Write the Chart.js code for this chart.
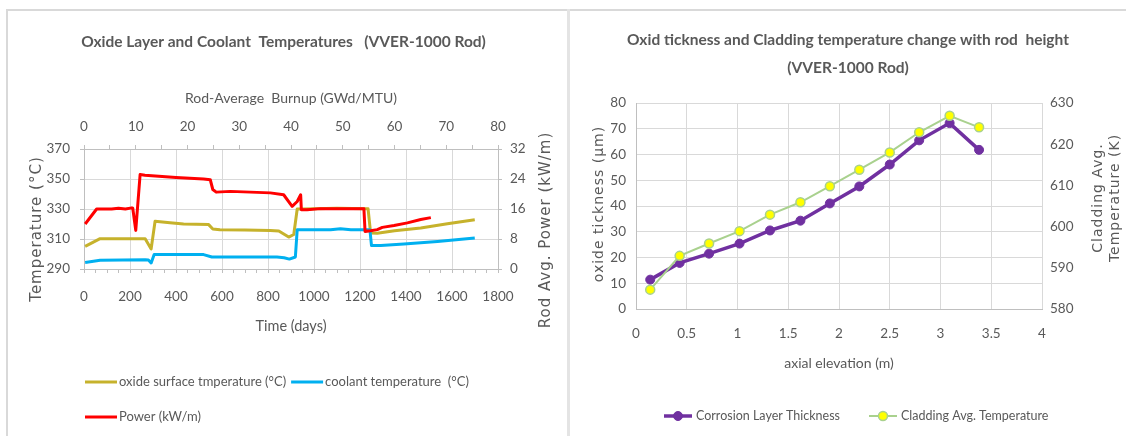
<!DOCTYPE html>
<html>
<head>
<meta charset="utf-8">
<title>VVER-1000 rod oxide charts</title>
<script src="https://cdn.jsdelivr.net/npm/chart.js@4.4.1/dist/chart.umd.min.js"></script>
<style>
  html, body { margin: 0; padding: 0; background: #fff; }
  body { position: relative; width: 1126px; height: 436px; overflow: hidden; }
  .rule { position: absolute; background: #d9d9d9; }
  #ruleTop { left: 6px; top: 9px; width: 1120px; height: 2px; }
  #ruleLeft { left: 6px; top: 9px; width: 2px; height: 427px; }
  #ruleMid { left: 567px; top: 9px; width: 3px; height: 427px; background: #e4e4e4; }
  canvas { position: absolute; top: 11px; }
  #leftChart { left: 0; }
  #rightChart { left: 570px; }
</style>
</head>
<body>
<div class="rule" id="ruleTop"></div>
<div class="rule" id="ruleLeft"></div>
<div class="rule" id="ruleMid"></div>
<canvas id="leftChart" width="567" height="425"></canvas>
<canvas id="rightChart" width="556" height="425"></canvas>

<script>
// ---- data: left chart (time history) ----
const oxideDays = [5, 70, 266, 292, 309, 374, 433, 542, 560, 591, 700, 810, 847, 890, 912, 927, 956, 1100, 1235, 1246, 1275, 1350, 1464, 1580, 1699];
const oxideTemp = [305.1, 310.2, 310.2, 303.4, 321.8, 320.8, 320, 319.6, 316.7, 316.2, 316, 315.6, 315.4, 311.3, 313, 330, 330, 330.5, 330.2, 314, 313.8, 315.5, 317.3, 320.2, 322.9];

const coolantDays = [5, 70, 266, 280, 292, 305, 520, 556, 839, 870, 893, 919, 927, 1072, 1115, 1160, 1243, 1250, 1290, 1391, 1537, 1699];
const coolantTemp = [294.4, 295.8, 296.2, 296, 294, 299.6, 299.6, 298, 298, 297.5, 296.6, 298, 316.2, 316.2, 316.9, 316.2, 316.2, 305.6, 305.6, 306.7, 308.4, 310.7];

const powerDays = [5, 55, 120, 150, 180, 208, 212, 225, 244, 265, 400, 520, 549, 560, 575, 636, 810, 868, 905, 927, 942, 945, 970, 1028, 1217, 1222, 1246, 1275, 1297, 1348, 1406, 1464, 1508];
const powerKw = [12, 16, 16, 16.2, 16, 16.3, 16.2, 10.3, 25.2, 25, 24.4, 24, 23.8, 21.2, 20.5, 20.7, 20.3, 19.8, 16.7, 18, 19.8, 15.8, 15.8, 16.1, 16.1, 10, 10.2, 10.5, 11.1, 11.6, 12.3, 13.2, 13.7];

const leftLegend = ['oxide surface tmperature (°C)', 'coolant temperature  (°C)', 'Power (kW/m)'];

// ---- data: right chart (axial profile) ----
const elevation = [0.14, 0.43, 0.72, 1.02, 1.32, 1.62, 1.91, 2.2, 2.5, 2.79, 3.09, 3.38];
const corrosion = [11.4, 17.9, 21.5, 25.4, 30.5, 34.3, 41, 47.6, 56.1, 65.5, 72.2, 61.8];
const claddingTemp = [584.7, 592.9, 595.9, 598.9, 602.9, 605.9, 609.8, 613.8, 618, 622.9, 626.9, 624.1];

const rightLegend = ['Corrosion Layer Thickness', 'Cladding Avg. Temperature'];

// ---- styles ----
const TEXT = '#595959';
const GRID = '#d9d9d9';
const AXIS = '#bfbfbf';
const NARROW = '"Liberation Sans Narrow", "Arial Narrow", Lato, sans-serif';
const WIDE = '"DejaVu Sans", Verdana, sans-serif';

Chart.defaults.font.family = NARROW;
Chart.defaults.color = TEXT;

const toPoints = (xs, ys) => xs.map((x, i) => ({ x: x, y: ys[i] }));

// vertical axis titles, read bottom-to-top on both sides like the original
function sideTitles(items, font) {
  return {
    id: 'sideTitles',
    afterDraw(chart) {
      const ctx = chart.ctx;
      ctx.save();
      ctx.fillStyle = TEXT;
      ctx.font = font;
      ctx.letterSpacing = '1px';
      ctx.textAlign = 'center';
      ctx.textBaseline = 'middle';
      items.forEach(item => {
        ctx.save();
        ctx.translate(item.x, item.y);
        ctx.rotate(-Math.PI / 2);
        item.lines.forEach((line, i) => {
          ctx.fillText(line, 0, (i - (item.lines.length - 1) / 2) * 17);
        });
        ctx.restore();
      });
      ctx.restore();
    }
  };
}

// legend with a line sample (and marker if the series has one)
function lineLegend(cfg) {
  return {
    id: 'lineLegend',
    afterDraw(chart) {
      const ctx = chart.ctx;
      const sets = chart.data.datasets;
      ctx.save();
      ctx.font = cfg.font;
      ctx.textBaseline = 'middle';
      cfg.rows.forEach(row => {
        let x = cfg.x;
        row.items.forEach(idx => {
          const ds = sets[idx];
          ctx.strokeStyle = ds.borderColor;
          ctx.lineWidth = ds.borderWidth;
          ctx.beginPath();
          ctx.moveTo(x, row.y);
          ctx.lineTo(x + cfg.lineLen, row.y);
          ctx.stroke();
          if (ds.pointRadius) {
            ctx.beginPath();
            ctx.arc(x + cfg.lineLen / 2, row.y, ds.pointRadius, 0, Math.PI * 2);
            ctx.fillStyle = ds.pointBackgroundColor;
            ctx.fill();
            ctx.lineWidth = ds.pointBorderWidth;
            ctx.strokeStyle = ds.pointBorderColor;
            ctx.stroke();
          }
          ctx.fillStyle = TEXT;
          ctx.fillText(ds.label, x + cfg.lineLen + cfg.textGap, row.y);
          x += cfg.lineLen + cfg.textGap + ctx.measureText(ds.label).width + cfg.itemGap;
        });
      });
      ctx.restore();
    }
  };
}

// ---- left chart ----
new Chart(document.getElementById('leftChart'), {
  type: 'line',
  data: {
    datasets: [
      { label: leftLegend[0], data: toPoints(oxideDays, oxideTemp), borderColor: '#c6b22c', borderWidth: 3, yAxisID: 'y', order: 3 },
      { label: leftLegend[1], data: toPoints(coolantDays, coolantTemp), borderColor: '#00b0f0', borderWidth: 3, yAxisID: 'y', order: 2 },
      { label: leftLegend[2], data: toPoints(powerDays, powerKw), borderColor: '#ff0000', borderWidth: 3, yAxisID: 'y2', order: 1 }
    ]
  },
  options: {
    responsive: false,
    animation: false,
    events: [],
    elements: { point: { radius: 0 }, line: { tension: 0, borderJoinStyle: 'round' } },
    layout: { padding: { bottom: 80 } },
    plugins: {
      legend: { display: false },
      tooltip: { enabled: false },
      title: {
        display: true,
        text: 'Oxide Layer and Coolant  Temperatures   (VVER-1000 Rod)',
        color: TEXT,
        font: { size: 15.5, weight: 'bold' },
        padding: { top: 21.7, bottom: 0 }
      }
    },
    scales: {
      x: {
        type: 'linear', position: 'bottom', min: 0, max: 1800,
        afterFit: s => { s.height = 87; },
        ticks: { stepSize: 50, maxTicksLimit: 100, autoSkip: false, maxRotation: 0, padding: 15.6, font: { size: 13.5 },
                 callback: v => v % 200 === 0 ? v : '' },
        grid: { color: c => c.tick && c.tick.value % 200 === 0 ? GRID : 'transparent', tickColor: AXIS, tickLength: 4 },
        border: { color: AXIS },
        title: { display: true, text: 'Time (days)', font: { size: 14.5 }, padding: { top: 0, bottom: 20.6 } }
      },
      xTop: {
        type: 'linear', position: 'top', min: 0, max: 80,
        afterFit: s => { s.height = 97.7; },
        ticks: { stepSize: 5, autoSkip: false, maxRotation: 0, padding: 10, font: { size: 13.5 },
                 callback: v => v % 10 === 0 ? v : '' },
        grid: { drawOnChartArea: false, tickColor: AXIS, tickLength: 4 },
        border: { color: AXIS },
        title: { display: true, text: 'Rod-Average  Burnup (GWd/MTU)', font: { size: 14 }, padding: { top: 38.6, bottom: 0 } }
      },
      y: {
        position: 'left', min: 290, max: 370,
        afterFit: s => { s.width = 84; },
        ticks: { stepSize: 10, padding: 10, font: { size: 13.5 }, callback: v => (v - 290) % 20 === 0 ? v : '' },
        grid: { color: c => c.tick && (c.tick.value - 290) % 20 === 0 ? GRID : 'transparent', tickColor: AXIS, tickLength: 4 },
        border: { color: AXIS }
      },
      y2: {
        position: 'right', min: 0, max: 32,
        afterFit: s => { s.width = 69; },
        ticks: { stepSize: 4, padding: 8, font: { size: 13.5 }, callback: v => v % 8 === 0 ? v : '' },
        grid: { drawOnChartArea: false, tickColor: AXIS, tickLength: 4 },
        border: { color: AXIS }
      }
    }
  },
  plugins: [
    sideTitles([
      { lines: ['Temperature (°C)'], x: 37, y: 218 },
      { lines: ['Rod Avg. Power (kW/m)'], x: 546, y: 219 }
    ], '15px ' + WIDE),
    lineLegend({ font: '13px ' + NARROW, x: 85, lineLen: 32, textGap: 2, itemGap: 5,
                 rows: [{ y: 371, items: [0, 1] }, { y: 406, items: [2] }] })
  ]
});

// ---- right chart ----
new Chart(document.getElementById('rightChart'), {
  type: 'line',
  data: {
    datasets: [
      { label: rightLegend[0], data: toPoints(elevation, corrosion), yAxisID: 'y', order: 2,
        borderColor: '#7030a0', borderWidth: 3.5,
        pointRadius: 4.5, pointBackgroundColor: '#7030a0', pointBorderColor: '#7030a0', pointBorderWidth: 1 },
      { label: rightLegend[1], data: toPoints(elevation, claddingTemp), yAxisID: 'y2', order: 1,
        borderColor: '#a9d18e', borderWidth: 2,
        pointRadius: 4.5, pointBackgroundColor: '#ffff00', pointBorderColor: '#a9d18e', pointBorderWidth: 1.5 }
    ]
  },
  options: {
    responsive: false,
    animation: false,
    events: [],
    elements: { line: { tension: 0 } },
    layout: { padding: { bottom: 50 } },
    plugins: {
      legend: { display: false },
      tooltip: { enabled: false },
      title: {
        display: true,
        text: ['Oxid tickness and Cladding temperature change with rod  height', '(VVER-1000 Rod)'],
        color: TEXT,
        font: { size: 15.5, weight: 'bold', lineHeight: '28px' },
        padding: { top: 15, bottom: 21 }
      }
    },
    scales: {
      x: {
        type: 'linear', min: 0, max: 4,
        afterFit: s => { s.height = 77; },
        ticks: { stepSize: 0.5, padding: 16.2, maxRotation: 0, font: { size: 13.5 }, callback: v => v },
        grid: { color: GRID, drawTicks: false },
        border: { color: AXIS },
        title: { display: true, text: 'axial elevation (m)', font: { size: 14 }, padding: { top: 0, bottom: 14.3 } }
      },
      y: {
        position: 'left', min: 0, max: 80,
        afterFit: s => { s.width = 66; },
        ticks: { stepSize: 10, padding: 10, font: { size: 13.5 } },
        grid: { color: GRID, drawTicks: false },
        border: { color: AXIS }
      },
      y2: {
        position: 'right', min: 580, max: 630,
        afterFit: s => { s.width = 84; },
        ticks: { stepSize: 10, padding: 8, font: { size: 13.5 } },
        grid: { drawOnChartArea: false, drawTicks: false },
        border: { display: false }
      }
    }
  },
  plugins: [
    sideTitles([
      { lines: ['oxide tickness (µm)'], x: 29, y: 193 },
      { lines: ['Cladding Avg.', 'Temperature (K)'], x: 537, y: 187 }
    ], '14px ' + WIDE),
    lineLegend({ font: '12.5px ' + NARROW, x: 94, lineLen: 28, textGap: 4, itemGap: 29,
                 rows: [{ y: 405, items: [0, 1] }] })
  ]
});
</script>
</body>
</html>
